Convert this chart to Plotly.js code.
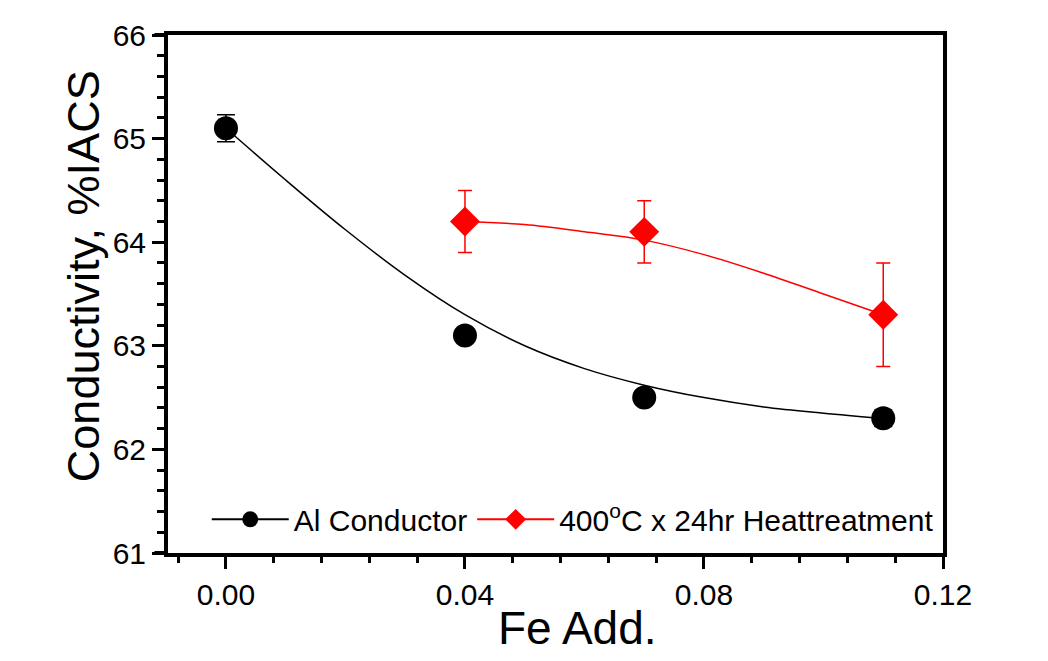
<!DOCTYPE html>
<html>
<head>
<meta charset="utf-8">
<script src="https://cdn.plot.ly/plotly-3.0.1.min.js"></script>
<style>html,body{margin:0;padding:0;background:#fff;}#chart{width:1048px;height:661px;}</style>
</head>
<body>
<div id="chart"></div>
<script>
// Measured points
const feAdd = [0.00, 0.04, 0.07, 0.11];
const alConductor = [65.1, 63.1, 62.5, 62.3];
const alConductorErr = [0.13, 0.05, 0.05, 0.08];

const feAddHT = [0.04, 0.07, 0.11];
const heatTreated = [64.2, 64.1, 63.3];
const heatTreatedErr = [0.3, 0.3, 0.5];

// Smoothed curves
const fitAlX = [0.00, 0.01, 0.02, 0.03, 0.04, 0.05, 0.06, 0.07, 0.08, 0.09, 0.10, 0.11];
const fitAlY = [65.1, 64.6, 64.12, 63.68, 63.3, 63.0, 62.78, 62.62, 62.5, 62.41, 62.35, 62.3];
const fitHTX = [0.04, 0.05, 0.06, 0.07, 0.08, 0.09, 0.10, 0.11];
const fitHTY = [64.2, 64.17, 64.1, 64.02, 63.88, 63.7, 63.5, 63.3];

const seriesNames = ['Al Conductor', '400<sup>o</sup>C x 24hr Heattreatment'];
const xTickFormat = '.2f';

const FONT = 'Liberation Sans, Arial, sans-serif';
const RED = '#ff0000';

const traces = [
  {x: fitAlX, y: fitAlY, mode: 'lines', line: {color: '#000', width: 1.5, shape: 'spline', smoothing: 1}, showlegend: false, hoverinfo: 'skip'},
  {x: fitHTX, y: fitHTY, mode: 'lines', line: {color: RED, width: 1.5, shape: 'spline', smoothing: 1}, showlegend: false, hoverinfo: 'skip'},
  {x: feAdd, y: alConductor, mode: 'markers', showlegend: false,
   marker: {symbol: 'circle', size: 24, color: '#000'},
   error_y: {type: 'data', array: alConductorErr, visible: true, color: '#000', thickness: 1.5, width: 9}},
  {x: feAddHT, y: heatTreated, mode: 'markers', showlegend: false,
   marker: {symbol: 'diamond', size: 23, color: RED},
   error_y: {type: 'data', array: heatTreatedErr, visible: true, color: RED, thickness: 1.5, width: 7}},
  // legend entries (line + symbol)
  {x: [null], y: [null], mode: 'lines+markers', name: seriesNames[0],
   line: {color: '#000', width: 2}, marker: {symbol: 'circle', size: 20, color: '#000'}},
  {x: [null], y: [null], mode: 'lines+markers', name: seriesNames[1],
   line: {color: RED, width: 2}, marker: {symbol: 'diamond', size: 20, color: RED}}
];

const layout = {
  width: 1048, height: 661,
  margin: {l: 168, r: 105, t: 35, b: 108},
  paper_bgcolor: '#fff', plot_bgcolor: '#fff',
  font: {family: FONT, color: '#000', size: 30},
  showlegend: true,
  legend: {orientation: 'h', x: 0.05, y: 0.065, xanchor: 'left', yanchor: 'middle',
           bgcolor: 'rgba(0,0,0,0)', borderwidth: 0, font: {family: FONT, size: 30, color: '#000'},
           itemwidth: 77, tracegroupgap: 0},
  xaxis: {
    range: [-0.0097, 0.12], showgrid: false, zeroline: false,
    showline: true, linewidth: 4, linecolor: '#000', mirror: true,
    ticks: 'outside', ticklen: 12, tickwidth: 3, tickcolor: '#000',
    tick0: 0, dtick: 0.04, tickformat: xTickFormat,
    minor: {ticks: 'outside', ticklen: 6, tickwidth: 3, tickcolor: '#000', dtick: 0.008, tick0: 0, showgrid: false},
    tickfont: {family: FONT, size: 30, color: '#000'}
  },
  yaxis: {
    range: [61, 66], showgrid: false, zeroline: false,
    showline: true, linewidth: 4, linecolor: '#000', mirror: true,
    ticks: 'outside', ticklen: 12, tickwidth: 3, tickcolor: '#000',
    tick0: 61, dtick: 1,
    minor: {ticks: 'outside', ticklen: 7, tickwidth: 3, tickcolor: '#000', dtick: 0.2, tick0: 61, showgrid: false},
    tickfont: {family: FONT, size: 30, color: '#000'}
  },
  annotations: [
    {text: 'Fe Add.', xref: 'paper', yref: 'paper', x: 0.529, y: -0.145, xanchor: 'center', yanchor: 'middle',
     showarrow: false, font: {family: FONT, size: 46, color: '#000'}},
    {text: 'Conductivity, %IACS', xref: 'paper', yref: 'paper', x: -0.108, y: 0.535, xanchor: 'center', yanchor: 'middle',
     textangle: -90, showarrow: false, font: {family: FONT, size: 45, color: '#000'}}
  ],
  shapes: [
    {type: 'line', xref: 'paper', yref: 'paper', x0: -0.0175, x1: 0, y0: 1, y1: 1, line: {color: '#000', width: 4}},
    {type: 'line', xref: 'paper', yref: 'paper', x0: -0.0175, x1: 0, y0: 0, y1: 0, line: {color: '#000', width: 4}}
  ]
};

Plotly.newPlot('chart', traces, layout, {displayModeBar: false, staticPlot: true});
</script>
</body>
</html>
